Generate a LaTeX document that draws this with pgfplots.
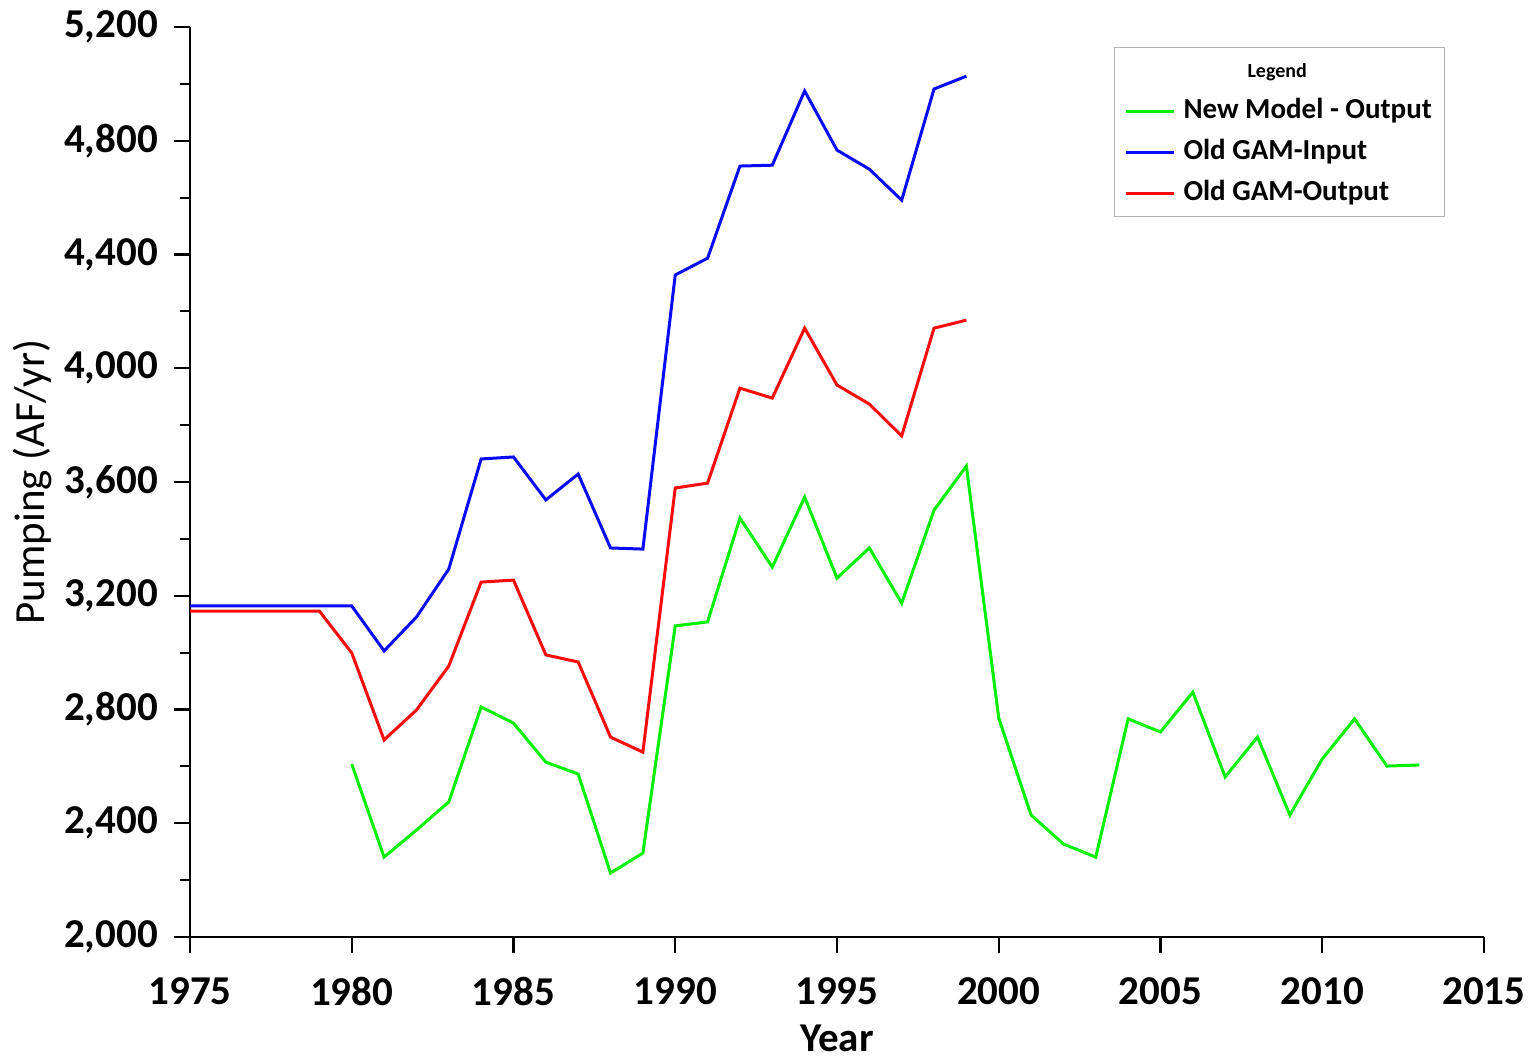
\documentclass[border=0pt]{standalone}
\usepackage{pgfplots}
\pgfplotsset{compat=1.18}
\usepackage{fontspec}
\setmainfont{Carlito}
\definecolor{lgreen}{RGB}{0,240,0}
\definecolor{lblue}{RGB}{10,10,250}
\definecolor{lred}{RGB}{250,10,10}
\begin{document}
\begin{tikzpicture}
\begin{axis}[
  scale only axis,
  width=1294pt, height=910pt,
  xmin=1975, xmax=2015, ymin=2000, ymax=5200,
  axis x line=bottom, axis y line=left,
  axis line style={-, line width=2.8pt, black},
  xtick={1975,1980,...,2015},
  ytick={2000,2400,...,5200},
  minor y tick num=1,
  tick align=outside,
  major tick length=16pt, minor tick length=10pt,
  every tick/.style={black, line width=2.2pt},
  /pgf/number format/assume math mode=true,
  ticklabel style={font=\fontsize{41}{43}\selectfont\bfseries, inner sep=0pt},
  yticklabel style={/pgf/number format/1000 sep={,}, xshift=-16pt},
  xticklabel style={/pgf/number format/1000 sep={}, yshift=-24pt},
  xlabel={\bfseries Year},
  xlabel style={font=\fontsize{41}{43}\selectfont, at={(axis description cs:0.5,-0.096)}, anchor=north, inner sep=0pt},
  ylabel={Pumping (AF/yr)},
  ylabel style={font=\fontsize{43}{45}\selectfont, at={(axis description cs:-0.122,0.5)}, anchor=center, inner sep=0pt},
  legend image code/.code={\draw[#1] (0pt,0pt) -- (48pt,0pt);},
  legend cell align=left,
  legend style={at={(axis description cs:0.714,0.978)}, anchor=north west,
    draw=gray!60, line width=1.2pt, fill=white,
    font=\bfseries\fontsize{29}{31}\selectfont,
    inner xsep=10pt, inner ysep=8pt, row sep=11pt, column sep=5pt,
    nodes={inner sep=3pt, text height=19pt, text depth=5pt}},
]
\addlegendimage{empty legend}
\addlegendentry{\hspace*{64pt}\fontsize{20}{21}\selectfont Legend}

\addplot[lgreen, line width=3pt] coordinates {
(1980,2608)(1981,2281)(1982,2376)(1983,2475)(1984,2809)(1985,2752)(1986,2615)(1987,2573)(1988,2225)(1989,2295)
(1990,3094)(1991,3108)(1992,3473)(1993,3301)(1994,3547)(1995,3262)(1996,3368)(1997,3174)(1998,3501)(1999,3656)
(2000,2770)(2001,2429)(2002,2327)(2003,2281)(2004,2767)(2005,2721)(2006,2861)(2007,2563)(2008,2703)(2009,2429)
(2010,2626)(2011,2767)(2012,2601)(2013,2605)};
\addlegendentry{New Model - Output}

\addplot[lblue, line width=3pt] coordinates {
(1975,3164)(1976,3164)(1977,3164)(1978,3164)(1979,3164)(1980,3164)(1981,3006)(1982,3125)(1983,3294)(1984,3681)(1985,3688)
(1986,3537)(1987,3628)(1988,3368)(1989,3364)(1990,4328)(1991,4387)(1992,4711)(1993,4714)(1994,4975)
(1995,4767)(1996,4700)(1997,4591)(1998,4982)(1999,5027)};
\addlegendentry{Old GAM-Input}

\addplot[lred, line width=3pt] coordinates {
(1975,3146)(1976,3146)(1977,3146)(1978,3146)(1979,3146)(1980,2999)(1981,2693)(1982,2798)(1983,2953)(1984,3248)(1985,3255)
(1986,2992)(1987,2967)(1988,2703)(1989,2650)(1990,3579)(1991,3596)(1992,3930)(1993,3895)(1994,4141)
(1995,3941)(1996,3874)(1997,3762)(1998,4141)(1999,4169)};
\addlegendentry{Old GAM-Output}
\end{axis}
\pgfresetboundingbox
\path[use as bounding box] ([shift={(-190pt,-125pt)}]current axis.south west) rectangle ++(1531pt,1062pt);
\end{tikzpicture}
\end{document}
